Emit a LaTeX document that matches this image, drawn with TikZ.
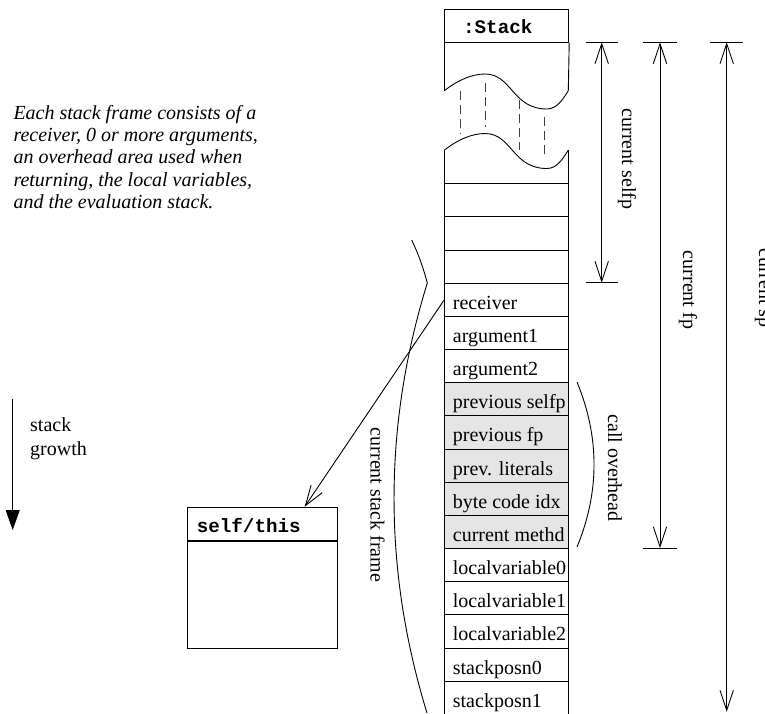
\documentclass[tikz,border=0pt]{standalone}
\usepackage{fontspec}
\setmainfont{Liberation Serif}
\setmonofont{Liberation Mono}
\usetikzlibrary{arrows.meta,calc}

\tikzset{
  ln/.style={line width=0.9pt},
  cell/.style={draw, line width=0.9pt, minimum width=124pt, minimum height=33.17pt,
    inner sep=0pt, anchor=north west},
  ovh/.style={cell, fill=black!10},
  celltext/.style={font=\fontsize{20}{22}\selectfont, anchor=base west, inner sep=0pt},
  itext/.style={font=\fontsize{20}{22}\selectfont\itshape, anchor=base west, inner sep=0pt},
  hdrtext/.style={font=\ttfamily\bfseries\fontsize{19.2}{22}\selectfont, anchor=base west, inner sep=0pt},
  vlabel/.style={font=\fontsize{20}{22}\selectfont, rotate=-90, inner sep=0pt},
  barb/.tip={Straight Barb[length=20pt,width=13.4pt]},
  openhead/.style={ln, -barb},
  dim/.style={ln, barb-barb},
  breakdash/.style={line width=0.9pt, draw=black!75, dash pattern=on 9pt off 5pt},
}

% one torn edge of the stack column, #1 = vertical offset
\newcommand\stackwave[1]{%
  \draw[ln] (444.3,90.7+#1) .. controls (458,80+#1) and (472,74+#1) .. (485,74+#1)
    .. controls (512,74+#1) and (512,109+#1) .. (547,109+#1)
    .. controls (557,109+#1) and (563,99+#1) .. (568.3,90.7+#1);}

\begin{document}
\begin{tikzpicture}[x=1pt, y=-1pt]
\useasboundingbox (0,0) rectangle (765,713);

% ---------- description ----------
\node[itext] (d1) at (13.3,119.3)  {Each stack frame consists of a};
\node[itext] (d2) at (13.3,141.55) {receiver, 0 or more arguments,};
\node[itext] (d3) at (13.3,163.8)  {an overhead area used when};
\node[itext] (d4) at (13.3,186.05) {returning, the local variables,};
\node[itext] (d5) at (13.3,208.3)  {and the evaluation stack.};

% ---------- stack growth ----------
\coordinate (gT) at (12.7,399.3);
\coordinate (gB) at (12.7,530);
\draw[ln, -{Triangle[length=20pt,width=14pt]}] (gT) -- (gB);
\node[celltext] (g1) at (30,431.7) {stack};
\node[celltext] (g2) at (30,455)   {growth};

% ---------- stack object ----------
\node[draw, ln, minimum width=124pt, minimum height=32.7pt, inner sep=0pt, anchor=north west]
  (stackhdr) at (444.3,9.3) {};
\node[hdrtext] (stacktitle) at (463,33.3) {:Stack};

\draw[ln] (stackhdr.south west) -- (444.3,90.7);
\draw[ln] (stackhdr.south east) -- (568.3,90.7);
\stackwave{0}
\stackwave{59.5}
\draw[ln] (444.3,150.2) -- (444.3,183.2);
\draw[ln] (568.3,150.2) -- (568.3,183.2);

\draw[breakdash] (460.7,91) -- (460.7,134);
\draw[breakdash] (485.7,83) -- (485.7,127);
\draw[breakdash] (519,100) -- (519,150);
\draw[breakdash] (544,117) -- (544,158);

\node[cell] (b1) at (444.3,183.2)  {};
\node[cell] (b2) at (444.3,216.37) {};
\node[cell] (b3) at (444.3,249.54) {};

\node[cell] (r0)  at (444.3,282.7)  {};
\node[cell] (r1)  at (444.3,315.87) {};
\node[cell] (r2)  at (444.3,349.04) {};
\node[ovh]  (r3)  at (444.3,382.21) {};
\node[ovh]  (r4)  at (444.3,415.38) {};
\node[ovh]  (r5)  at (444.3,448.55) {};
\node[ovh]  (r6)  at (444.3,481.72) {};
\node[ovh]  (r7)  at (444.3,514.89) {};
\node[cell] (r8)  at (444.3,548.06) {};
\node[cell] (r9)  at (444.3,581.23) {};
\node[cell] (r10) at (444.3,614.4)  {};
\node[cell] (r11) at (444.3,647.57) {};
\node[cell] (r12) at (444.3,680.74) {};

\foreach \n/\t in {0/receiver, 1/argument1, 2/argument2, 3/previous selfp,
    4/previous fp, 5/prev. literals, 6/byte code idx, 7/current methd,
    8/localvariable0, 9/localvariable1, 10/localvariable2, 11/stackposn0,
    12/stackposn1}
  \node[celltext] (t\n) at ($(r\n.south west)+(8.4,-7.57)$) {\t};

% ---------- self/this object ----------
\node[draw, ln, minimum width=149.4pt, minimum height=33.3pt, inner sep=0pt, anchor=north west]
  (selfhdr) at (187.3,506.7) {};
\node[draw, ln, minimum width=149.4pt, minimum height=107.3pt, inner sep=0pt, anchor=north west]
  (selfbody) at (selfhdr.south west) {};
\node[hdrtext] (selftitle) at (196.7,532.3) {self/this};

\draw[openhead] (r0.west) -- ($(selfhdr.north west)!0.781!(selfhdr.north east)$);

% ---------- current stack frame brace ----------
\coordinate (fA) at (411.7,240);
\coordinate (fK) at (427.3,283);
\coordinate (fZ) at (427,713);
\draw[ln] (fA) .. controls (418.4,254) and (423.6,268.7) .. (fK)
  .. controls (383,426.3) and (383,569.7) .. (fZ);
\node[vlabel] (lblframe) at (377.5,505) {current stack frame};

% ---------- call overhead ----------
\coordinate (oA) at (577,382);
\coordinate (oZ) at (577,547);
\draw[ln] (oA) .. controls (599.7,437) and (599.7,492) .. (oZ);
\node[vlabel] (lblovh) at (615,468) {call overhead};

% ---------- dimension arrows ----------
\coordinate (spT) at (601.7,42.3);
\coordinate (spB) at (601.7,282.7);
\draw[ln] (585.7,42.3) -- (618,42.3);
\draw[ln] (585.7,282.7) -- (618,282.7);
\draw[dim] (spT) -- (spB);
\node[vlabel] (lblselfp) at (627,159) {current selfp};

\coordinate (fpT) at (660,42.3);
\coordinate (fpB) at (660,548.1);
\draw[ln] (643,42.3) -- (677,42.3);
\draw[ln] (643,548.1) -- (677,548.1);
\draw[dim] (fpT) -- (fpB);
\node[vlabel] (lblfp) at (688,290) {current fp};

\coordinate (csT) at (726.7,42.3);
\coordinate (csB) at (726.7,711.7);
\draw[ln] (710,42.3) -- (743,42.3);
\draw[dim] (csT) -- (csB);
\node[vlabel] (lblsp) at (762.7,288) {current sp};
\end{tikzpicture}
\end{document}
